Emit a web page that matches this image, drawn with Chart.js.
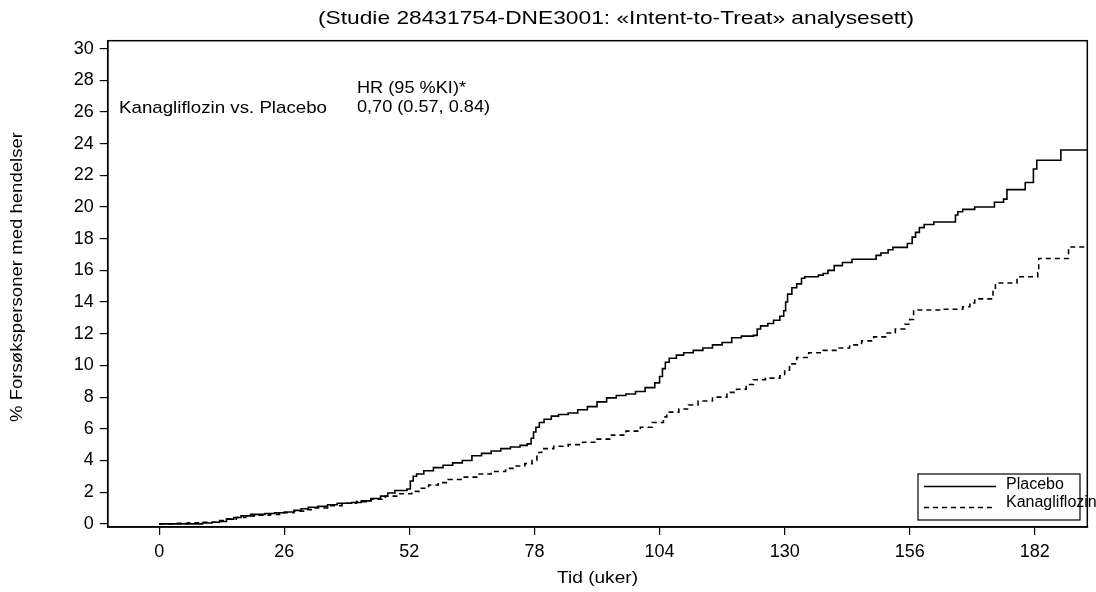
<!DOCTYPE html>
<html><head><meta charset="utf-8">
<script src="https://cdn.jsdelivr.net/npm/chart.js@4.4.1/dist/chart.umd.min.js"></script>
<style>html,body{margin:0;padding:0;background:#fff;}#wrap{width:1096px;height:592px;position:relative;}</style>
</head><body><div id="wrap"><canvas id="c" width="1096" height="592"></canvas></div>
<script>
const xTickValues = [0, 26, 52, 78, 104, 130, 156, 182];
const yTickValues = [0, 2, 4, 6, 8, 10, 12, 14, 16, 18, 20, 22, 24, 26, 28, 30];
const seriesLabels = ['Placebo', 'Kanagliflozin'];

const placeboWeeks = [0, 9, 11, 12.5, 14, 15.5, 17, 19, 22, 24, 26, 28, 29.5, 31, 33, 35, 37, 40, 42, 44, 46, 47.5, 49, 51.5, 52.2, 52.8, 53.5, 55, 57, 59, 61, 63, 65, 67, 69, 71, 73, 75, 76.5, 77.3, 77.8, 78.3, 79, 80, 81.5, 83, 85, 87, 89, 91, 93, 95, 97, 99, 101, 103, 104, 104.6, 105.2, 106, 107.5, 109, 111, 113, 115, 117, 119, 121, 123.5, 124.3, 125, 126.5, 127.7, 129, 129.8, 130.2, 130.6, 131.5, 132.5, 133.5, 134.2, 137, 138, 139, 140.3, 142, 144, 149, 150, 151.5, 152.5, 155.5, 156.5, 157.2, 158, 159, 161, 165.5, 166, 167, 169.5, 173.6, 175.5, 176.2, 180, 181.7, 182.4, 187.4, 193];
const placeboPct = [0, 0.05, 0.1, 0.15, 0.3, 0.4, 0.5, 0.6, 0.65, 0.7, 0.75, 0.85, 0.95, 1.05, 1.1, 1.2, 1.3, 1.35, 1.45, 1.6, 1.75, 1.95, 2.1, 2.2, 2.7, 3.0, 3.15, 3.35, 3.55, 3.7, 3.85, 4.0, 4.3, 4.45, 4.6, 4.75, 4.85, 4.95, 5.05, 5.4, 5.8, 6.1, 6.4, 6.6, 6.8, 6.9, 7.0, 7.2, 7.4, 7.7, 7.95, 8.1, 8.2, 8.35, 8.6, 8.9, 9.3, 9.8, 10.2, 10.45, 10.65, 10.8, 10.95, 11.1, 11.3, 11.45, 11.75, 11.85, 11.9, 12.3, 12.5, 12.65, 12.85, 13.1, 13.45, 14.0, 14.5, 14.9, 15.15, 15.5, 15.6, 15.7, 15.8, 16.0, 16.3, 16.5, 16.7, 16.95, 17.1, 17.3, 17.45, 17.7, 18.1, 18.4, 18.7, 18.9, 19.05, 19.5, 19.7, 19.85, 20.0, 20.3, 20.5, 21.1, 21.55, 22.4, 22.95, 23.6, 23.6];

const kanaWeeks = [0, 3, 6, 9, 12, 14, 16, 18, 20, 23, 25, 28, 30, 32, 35, 38, 41, 44, 47, 50, 52.5, 54, 56, 58, 60, 63, 66, 69, 72, 74, 76, 77.5, 78.5, 79.5, 82, 85, 88, 91, 94, 97, 100, 102.5, 104.8, 105.5, 108, 110, 112, 115, 118, 120, 122, 123.5, 126, 129, 130, 131, 132.5, 135, 138, 141, 143.5, 146, 148.5, 151, 153, 155, 156, 156.8, 163, 167, 168.5, 169.5, 173.3, 173.8, 178.3, 182.6, 182.8, 189, 193];
const kanaPct = [0, 0.03, 0.06, 0.1, 0.2, 0.3, 0.4, 0.5, 0.55, 0.6, 0.7, 0.8, 0.9, 1.0, 1.15, 1.3, 1.4, 1.55, 1.75, 1.9, 2.05, 2.25, 2.45, 2.6, 2.8, 2.95, 3.15, 3.3, 3.5, 3.65, 3.8, 4.0, 4.5, 4.75, 4.9, 5.0, 5.15, 5.35, 5.6, 5.85, 6.1, 6.4, 6.75, 7.05, 7.25, 7.5, 7.75, 8.0, 8.3, 8.5, 8.8, 9.1, 9.2, 9.35, 9.7, 10.1, 10.5, 10.8, 10.95, 11.1, 11.3, 11.55, 11.8, 12.05, 12.3, 12.6, 12.9, 13.5, 13.55, 13.7, 13.95, 14.2, 14.8, 15.2, 15.6, 15.85, 16.75, 17.48, 17.48];

const titleText = '(Studie 28431754-DNE3001: \u00abIntent-to-Treat\u00bb analysesett)';
const xAxisTitle = 'Tid (uker)';
const yAxisTitle = '% Fors\u00f8kspersoner med hendelser';
const comparisonText = 'Kanagliflozin vs. Placebo';
const hrHeader = 'HR (95 %KI)*';
const hrValue = '0,70 (0.57, 0.84)';

const FONT = '"Liberation Sans", Arial, Helvetica, sans-serif';

function toPoints(xs, ys) { return xs.map((x, i) => ({ x: x, y: ys[i] })); }

function drawFit(ctx, text, x, y, size, width, align) {
  ctx.save();
  ctx.font = size + 'px ' + FONT;
  const w = ctx.measureText(text).width;
  const s = width ? width / w : 1;
  ctx.translate(x, y);
  ctx.scale(s, 1);
  ctx.textAlign = align;
  ctx.textBaseline = 'middle';
  ctx.fillStyle = '#000';
  ctx.fillText(text, 0, 0);
  ctx.restore();
}

const decor = {
  id: 'decor',
  afterDraw(chart) {
    const ctx = chart.ctx, a = chart.chartArea;
    ctx.save();
    ctx.strokeStyle = '#000';
    ctx.lineWidth = 1.5;
    ctx.strokeRect(a.left, a.top, a.right - a.left, a.bottom - a.top);
    // title
    drawFit(ctx, titleText, 318, 19, 19, 596, 'left');
    // axis titles
    drawFit(ctx, xAxisTitle, (a.left + a.right) / 2, 578, 17, 81, 'center');
    ctx.save();
    ctx.translate(17, 277);
    ctx.rotate(-Math.PI / 2);
    drawFit(ctx, yAxisTitle, 0, 0, 17, 290, 'center');
    ctx.restore();
    // annotation
    drawFit(ctx, comparisonText, 119, 108, 17, 208, 'left');
    drawFit(ctx, hrHeader, 357, 88, 17, 109, 'left');
    drawFit(ctx, hrValue, 357, 107, 17, 133, 'left');
    // legend
    const lx = 918, ly = 474, lw = 162, lh = 46;
    ctx.fillStyle = '#fff';
    ctx.fillRect(lx, ly, lw, lh);
    ctx.strokeStyle = '#000';
    ctx.lineWidth = 1.2;
    ctx.strokeRect(lx, ly, lw, lh);
    const ds = chart.data.datasets;
    const lineRows = [486.5, 507.5];
    const textRows = [485, 503];
    ds.forEach((d, i) => {
      ctx.beginPath();
      ctx.setLineDash(d.borderDash || []);
      ctx.lineWidth = d.borderWidth;
      ctx.strokeStyle = '#000';
      ctx.moveTo(924, lineRows[i]);
      ctx.lineTo(996, lineRows[i]);
      ctx.stroke();
      ctx.setLineDash([]);
      drawFit(ctx, d.label, 1006, textRows[i], 16, 0, 'left');
    });
    ctx.restore();
  }
};

new Chart(document.getElementById('c'), {
  type: 'line',
  data: {
    datasets: [
      { label: seriesLabels[0], data: toPoints(placeboWeeks, placeboPct), borderColor: '#000', borderWidth: 1.6, pointRadius: 0, stepped: true, fill: false },
      { label: seriesLabels[1], data: toPoints(kanaWeeks, kanaPct), borderColor: '#000', borderWidth: 1.6, borderDash: [5, 4], pointRadius: 0, stepped: true, fill: false }
    ]
  },
  options: {
    responsive: false,
    animation: false,
    devicePixelRatio: 1,
    layout: { padding: { top: 40.7, right: 8.7, left: 0, bottom: 0 } },
    plugins: { legend: { display: false }, title: { display: false }, tooltip: { enabled: false } },
    scales: {
      x: {
        type: 'linear', min: -10.7, max: 192.9,
        afterBuildTicks: s => { s.ticks = xTickValues.map(v => ({ value: v })); },
        afterFit: s => { s.height = 592 - 527; },
        ticks: { color: '#000', font: { family: FONT, size: 18 }, padding: 6, maxRotation: 0, autoSkip: false },
        grid: { drawOnChartArea: false, drawTicks: true, tickLength: 8, color: '#000', lineWidth: 1.2 },
        border: { display: true, color: '#000', width: 1.5 }
      },
      y: {
        type: 'linear', min: -0.2, max: 30.5,
        afterBuildTicks: s => { s.ticks = yTickValues.map(v => ({ value: v })); },
        afterFit: s => { s.width = 107.7; },
        ticks: { color: '#000', font: { family: FONT, size: 18 }, padding: 6, autoSkip: false },
        grid: { drawOnChartArea: false, drawTicks: true, tickLength: 8, color: '#000', lineWidth: 1.2 },
        border: { display: true, color: '#000', width: 1.5 }
      }
    }
  },
  plugins: [decor]
});
</script></body></html>
